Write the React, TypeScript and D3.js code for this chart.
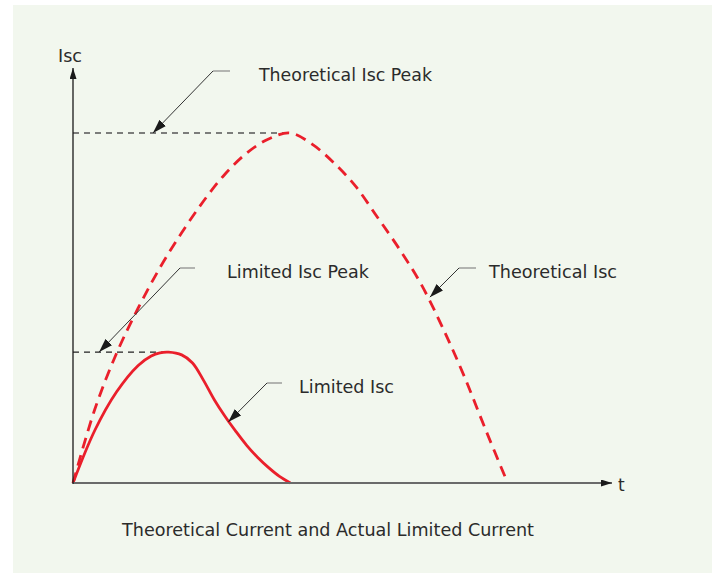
import React from "react";
import * as d3 from "d3";

// Theoretical short-circuit current (dashed), t in arbitrary units, Isc in % of theoretical peak
const theoT = [0, 0.5, 1, 1.5, 2, 2.5, 3, 3.5, 4, 4.5, 5, 5.5, 6, 6.5, 7, 7.5, 8, 8.5, 9, 9.5, 10];
const theoI = [0, 21, 37, 50, 61.5, 71.5, 80.5, 88.3, 94.3, 98.3, 100, 96.8, 91.5, 84.8, 76, 67, 57, 44.5, 30.5, 15, 0];

// Limited current (solid)
const limT = [0, 0.5, 1.0, 1.5, 1.8, 2.0, 2.2, 2.5, 2.75, 3.0, 3.25, 3.5, 3.75, 4.0, 4.25, 4.5, 4.75, 5.0];
const limI = [0, 15, 26, 33.6, 36.3, 37.2, 37.4, 36.6, 34.3, 29.4, 23.8, 19.0, 14.7, 10.7, 7.3, 4.4, 1.9, 0];

const theoPeak = { t: 4.97, i: 100 };
const limPeak = { t: 2.2, i: 37.4 };

const annotations = [
  { text: "Theoretical Isc Peak", tipT: 1.84, tipI: 100, elbowX: 213, elbowY: 71, hEnd: 230, textX: 259, textW: 173 },
  { text: "Limited Isc Peak", tipT: 0.6, tipI: 37.4, elbowX: 180, elbowY: 268, hEnd: 195, textX: 227, textW: 142 },
  { text: "Theoretical Isc", tipT: 8.21, tipI: 53.1, elbowX: 459, elbowY: 268, hEnd: 476, textX: 489, textW: 128 },
  { text: "Limited Isc", tipT: 3.57, tipI: 17.4, elbowX: 267, elbowY: 383, hEnd: 282, textX: 299, textW: 95 },
];

const caption = "Theoretical Current and Actual Limited Current";

export default function App() {
  const W = 716, H = 573;
  const x0 = 73, y0 = 483;
  const x = d3.scaleLinear().domain([0, 12.4]).range([x0, 612]);
  const y = d3.scaleLinear().domain([0, 100]).range([y0, 133]);

  const theoLine = d3
    .line<number>()
    .x((_, k) => x(theoT[k]))
    .y((d) => y(d))
    .curve(d3.curveCatmullRom.alpha(0.5));
  const limLine = d3
    .line<number>()
    .x((_, k) => x(limT[k]))
    .y((d) => y(d))
    .curve(d3.curveCatmullRom.alpha(0.5));

  const red = "#ea1f2b";
  const font = "'DejaVu Sans', 'Liberation Sans', sans-serif";
  const textColor = "#2b2b2b";

  return (
    <svg width={W} height={H} style={{ position: "absolute", left: 0, top: 0 }}>
      <defs>
        <marker id="lead" viewBox="0 0 14 9" refX="14" refY="4.5" markerWidth="14" markerHeight="9" markerUnits="userSpaceOnUse" orient="auto">
          <path d="M0,0 L14,4.5 L0,9 Z" fill="#1a1a1a" />
        </marker>
        <marker id="ax" viewBox="0 0 11 7" refX="11" refY="3.5" markerWidth="11" markerHeight="7" markerUnits="userSpaceOnUse" orient="auto">
          <path d="M0,0 L11,3.5 L0,7 Z" fill="#1a1a1a" />
        </marker>
      </defs>
      <rect x={13} y={5} width={699} height={568} fill="#f2f7ee" />

      {/* reference peak lines */}
      <line x1={x0} x2={x(theoPeak.t)} y1={y(theoPeak.i)} y2={y(theoPeak.i)} stroke="#555" strokeWidth={1.3} strokeDasharray="6,5" />
      <line x1={x0} x2={x(limPeak.t)} y1={y(limPeak.i)} y2={y(limPeak.i)} stroke="#222" strokeWidth={1.3} strokeDasharray="6,5" />

      {/* curves */}
      <path d={theoLine(theoI) || ""} fill="none" stroke={red} strokeWidth={2.8} strokeDasharray="11,7" />
      <path d={limLine(limI) || ""} fill="none" stroke={red} strokeWidth={2.8} />

      {/* axes */}
      <line x1={x0} x2={612} y1={y0} y2={y0} stroke="#6a6a6a" strokeWidth={2} markerEnd="url(#ax)" />
      <line x1={x0} x2={x0} y1={y0 + 1} y2={68} stroke="#1a1a1a" strokeWidth={1.3} markerEnd="url(#ax)" />
      <text x={58} y={62} fontFamily={font} fontSize={17} fill={textColor} textLength={24} lengthAdjust="spacingAndGlyphs">Isc</text>
      <text x={618} y={491} fontFamily={font} fontSize={17} fill={textColor}>t</text>

      {/* annotations */}
      {annotations.map((a) => {
        const tx = x(a.tipT), ty = y(a.tipI);
        return (
          <g key={a.text}>
            <line x1={a.elbowX} y1={a.elbowY} x2={a.hEnd} y2={a.elbowY} stroke="#888" strokeWidth={1.2} />
            <line x1={a.elbowX} y1={a.elbowY} x2={tx} y2={ty} stroke="#333" strokeWidth={1} markerEnd="url(#lead)" />
            <text x={a.textX} y={a.elbowY + 10} fontFamily={font} fontSize={17} fill={textColor} textLength={a.textW} lengthAdjust="spacingAndGlyphs">{a.text}</text>
          </g>
        );
      })}

      <text x={122} y={536} fontFamily={font} fontSize={17} fill={textColor} textLength={412} lengthAdjust="spacingAndGlyphs">{caption}</text>
    </svg>
  );
}
